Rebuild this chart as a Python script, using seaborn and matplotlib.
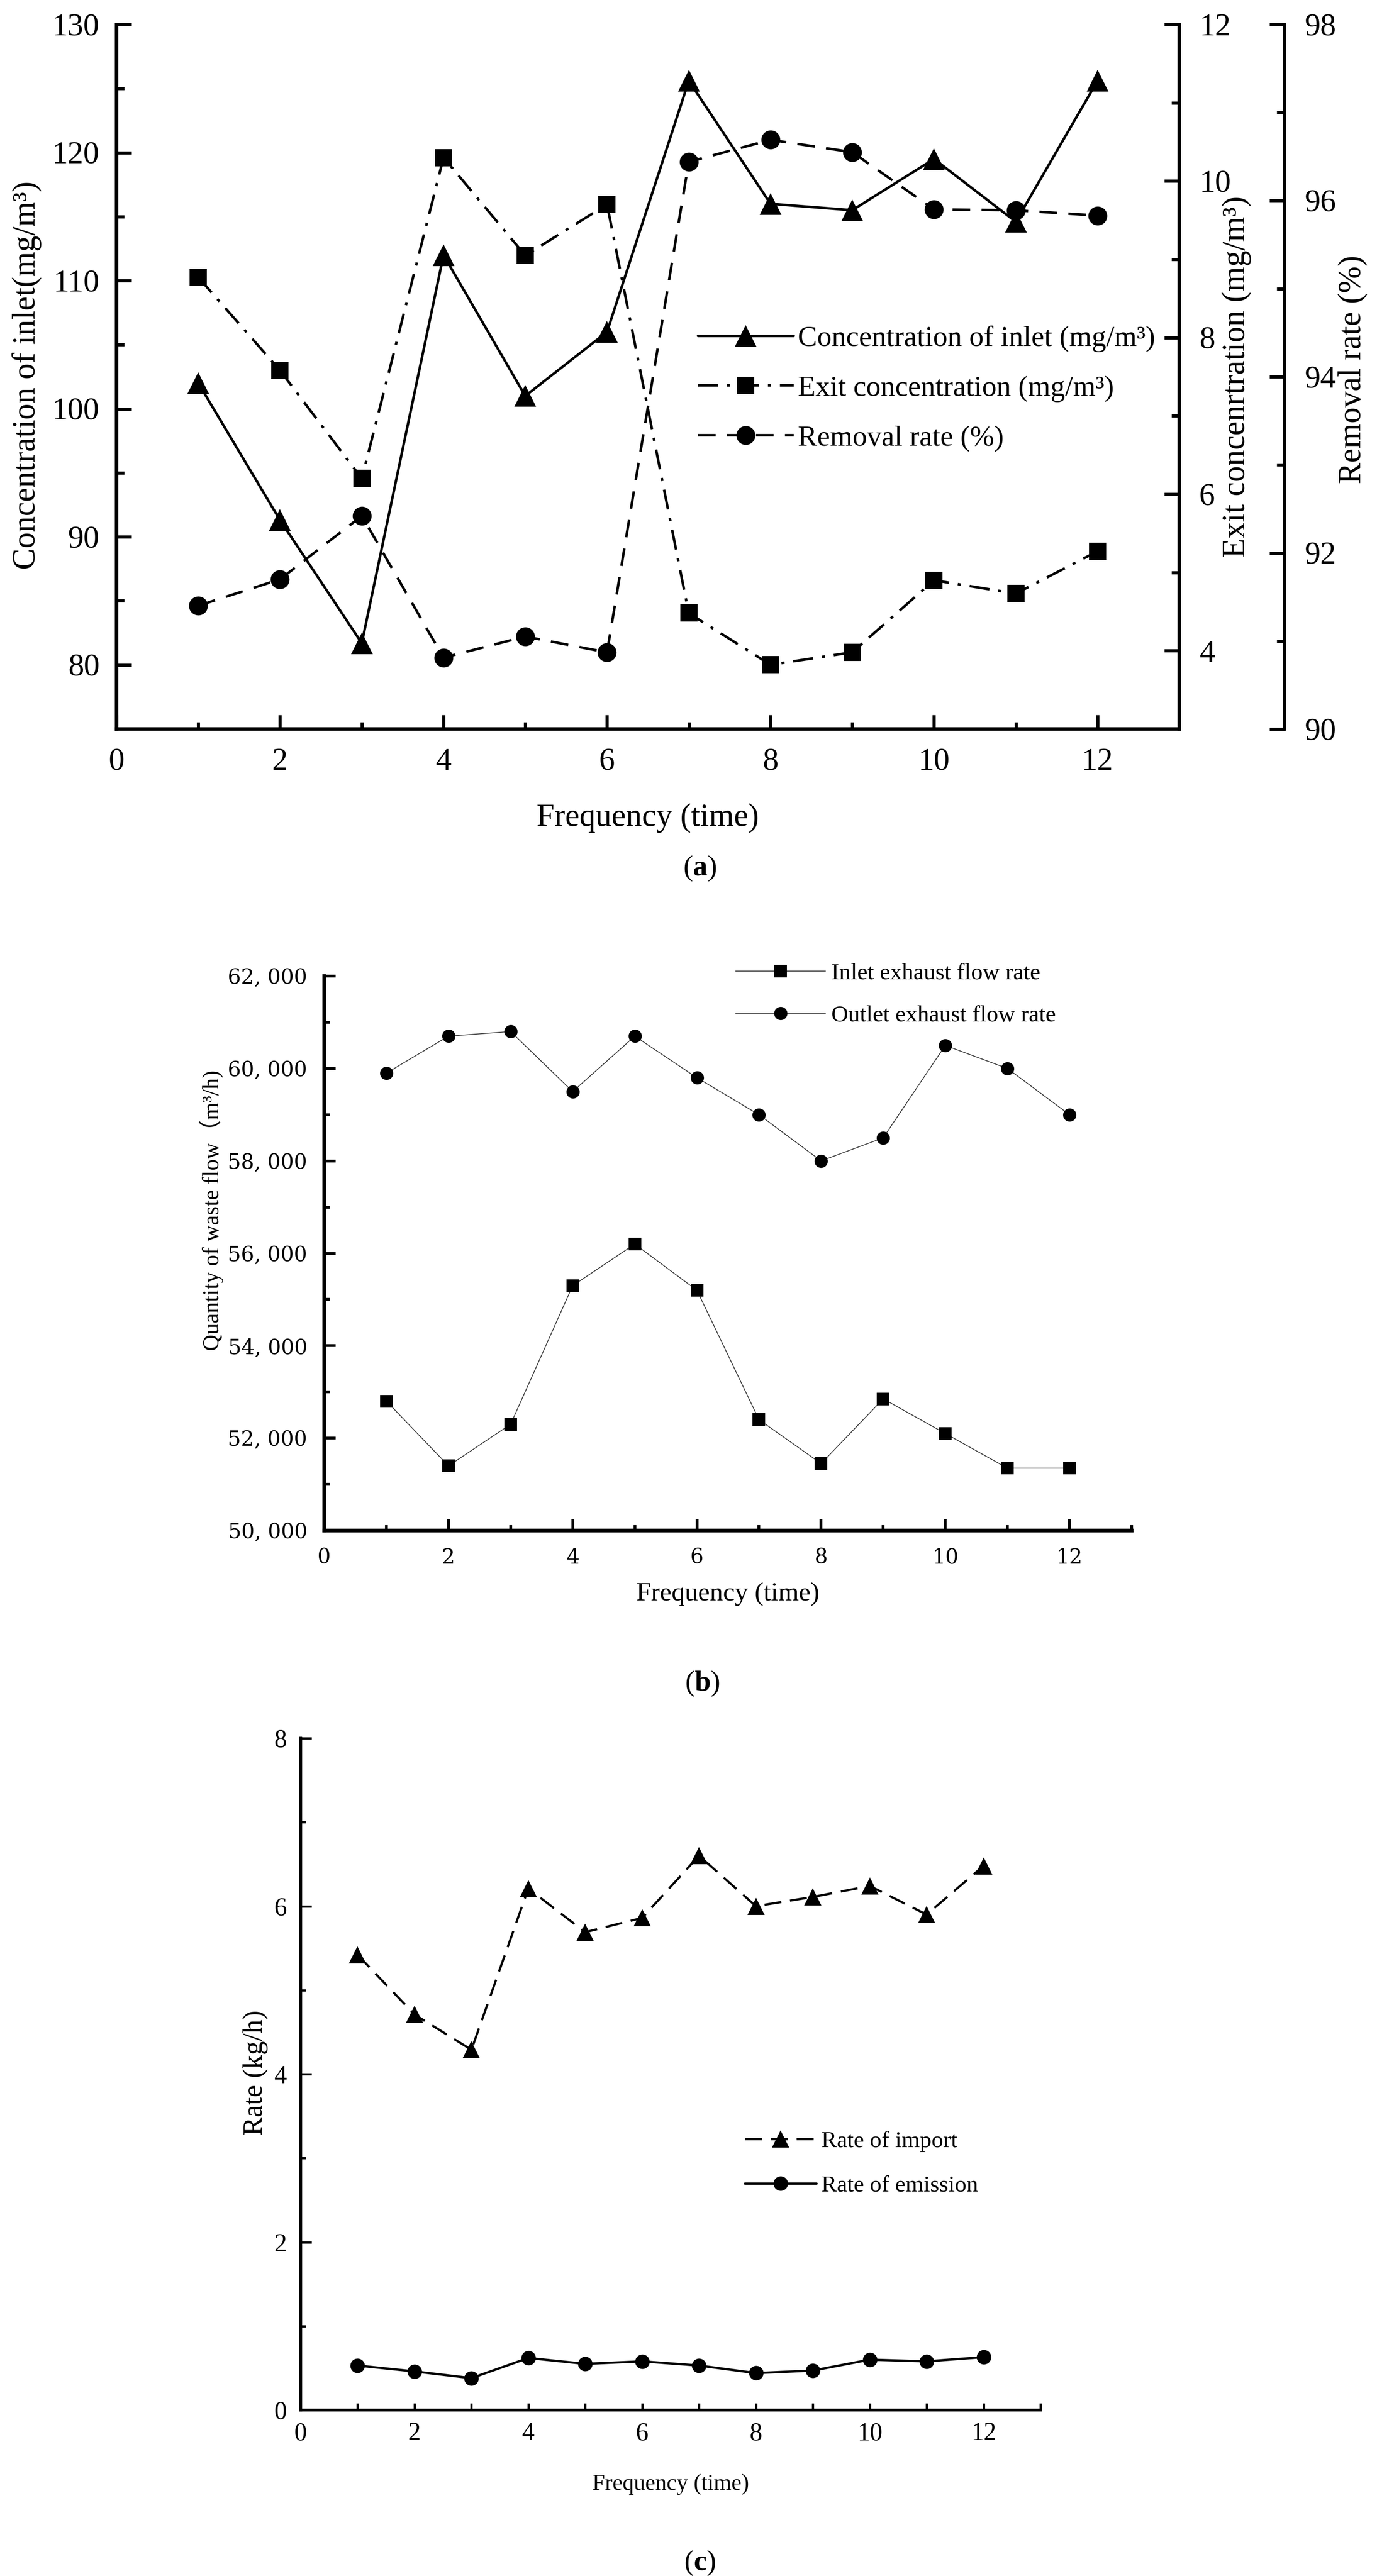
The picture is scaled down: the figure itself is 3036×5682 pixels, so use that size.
import numpy as np
import pandas as pd
import matplotlib
matplotlib.use("Agg")
import matplotlib.pyplot as plt
import seaborn as sns
from matplotlib.ticker import MultipleLocator, FixedLocator, FuncFormatter

# ---------------- data ----------------
runs = list(range(1, 13))

# panel (a)
inlet_conc = [102.0, 91.3, 81.7, 112.0, 101.0, 106.0, 125.6, 116.0, 115.5, 119.5, 114.6, 125.6]
exit_conc = [8.77, 7.58, 6.20, 10.30, 9.05, 9.70, 4.48, 3.82, 3.98, 4.90, 4.73, 5.27]
removal_rate = [91.40, 91.70, 92.42, 90.81, 91.05, 90.87, 96.44, 96.69, 96.55, 95.90, 95.89, 95.83]

# panel (b)
inlet_flow = [52800, 51400, 52300, 55300, 56200, 55200, 52400, 51450, 52850, 52100, 51350, 51350]
outlet_flow = [59900, 60700, 60800, 59500, 60700, 59800, 59000, 58000, 58500, 60500, 60000, 59000]

# panel (c)
import_rate = [5.42, 4.71, 4.29, 6.21, 5.69, 5.86, 6.60, 6.00, 6.11, 6.24, 5.90, 6.48]
emission_rate = [0.53, 0.46, 0.38, 0.62, 0.55, 0.58, 0.53, 0.44, 0.47, 0.60, 0.58, 0.63]

# ---------------- style ----------------
sns.set_theme(style="white")
plt.rcParams["font.family"] = ["Liberation Serif", "DejaVu Serif", "Noto Sans CJK SC"]
plt.rcParams.update({
    "lines.scale_dashes": False,
    "mathtext.fontset": "custom",
    "mathtext.rm": "Liberation Serif",
    "mathtext.bf": "Liberation Serif:bold",
    "mathtext.it": "Liberation Serif:italic",
    "text.color": "black",
    "axes.labelcolor": "black",
    "xtick.color": "black",
    "ytick.color": "black",
    "axes.edgecolor": "black",
})

W, H = 3036, 5682
fig = plt.figure(figsize=(W / 100, H / 100), dpi=100)


def px_axes(l, t, r, b):
    return fig.add_axes([l / W, 1 - b / H, (r - l) / W, (b - t) / H])


def center_label(lab):
    lab.set_ha("center")
    lab.set_va("center")


# ================= panel (a) =================
L, T, R, B = 257, 54, 2600, 1608
ax1 = px_axes(L, T, R, B)
ax2 = ax1.twinx()
ax3 = ax1.twinx()
ax3.spines["right"].set_position(("axes", (2832 - L) / (R - L)))

df_a = pd.DataFrame({"run": runs, "inlet": inlet_conc, "exit": exit_conc, "removal": removal_rate})

sns.lineplot(data=df_a, x="run", y="inlet", ax=ax1, color="black", linewidth=4,
             marker="^", markersize=34, markeredgecolor="black", markeredgewidth=0,
             label="Concentration of inlet (mg/m³)", legend=False)
sns.lineplot(data=df_a, x="run", y="exit", ax=ax2, color="black", linewidth=4,
             linestyle=(0, (32, 14, 5, 14)),
             marker="s", markersize=27, markeredgecolor="black", markeredgewidth=0,
             label="Exit concentration (mg/m³)", legend=False)
sns.lineplot(data=df_a, x="run", y="removal", ax=ax3, color="black", linewidth=4,
             linestyle=(0, (28, 18)),
             marker="o", markersize=30, markeredgecolor="black", markeredgewidth=0,
             label="Removal rate (%)", legend=False)

ax1.set_xlim(0, 13)
ax1.set_ylim(75, 130)
ax2.set_ylim(3, 12)
ax3.set_ylim(90, 98)

ax1.xaxis.set_major_locator(MultipleLocator(2))
ax1.xaxis.set_minor_locator(MultipleLocator(1))
ax1.yaxis.set_major_locator(FixedLocator(list(range(80, 131, 10))))
ax1.yaxis.set_minor_locator(FixedLocator(list(range(85, 130, 10))))
ax2.yaxis.set_major_locator(FixedLocator([4, 6, 8, 10, 12]))
ax2.yaxis.set_minor_locator(FixedLocator([5, 7, 9, 11]))
ax3.yaxis.set_major_locator(FixedLocator([90, 92, 94, 96, 98]))
ax3.yaxis.set_minor_locator(FixedLocator([91, 93, 95, 97]))

for sp in ["top", "right"]:
    ax1.spines[sp].set_visible(False)
for a in (ax2, ax3):
    for sp in ["top", "left", "bottom"]:
        a.spines[sp].set_visible(False)
for a in (ax1, ax2, ax3):
    for sp in a.spines.values():
        sp.set_linewidth(5.5)
        sp.set_color("black")

ax1.tick_params(axis="x", which="both", direction="in", bottom=True, top=False,
                width=5, labelsize=50, pad=30)
ax1.tick_params(axis="x", which="major", length=22)
ax1.tick_params(axis="x", which="minor", length=11)
ax1.tick_params(axis="y", which="both", direction="in", left=True, right=False,
                width=5, labelsize=50, pad=27)
ax1.tick_params(axis="y", which="major", length=24)
ax1.tick_params(axis="y", which="minor", length=12)
for a in (ax2, ax3):
    a.tick_params(axis="y", which="both", direction="in", right=True, left=False,
                  width=5, labelsize=50, pad=32)
    a.tick_params(axis="y", which="major", length=24)
    a.tick_params(axis="y", which="minor", length=12)

ax1.set_xlabel("Frequency (time)", fontsize=51)
ax1.xaxis.set_label_coords(0.5, (B - 1804) / (B - T))
ax1.xaxis.label.set_va("center")
ax1.set_ylabel("Concentration of inlet(mg/m³)", fontsize=51)
ax1.yaxis.set_label_coords((60 - L) / (R - L), (B - 828) / (B - T))
center_label(ax1.yaxis.label)
ax2.set_ylabel("Exit concenrtration (mg/m³)", fontsize=51)
ax2.yaxis.set_label_coords((2726 - L) / (R - L), (B - 831) / (B - T))
center_label(ax2.yaxis.label)
ax2.yaxis.label.set_rotation(90)
ax3.set_ylabel("Removal rate (%)", fontsize=51)
ax3.yaxis.set_label_coords((2982 - L) / (R - L), (B - 815) / (B - T))
center_label(ax3.yaxis.label)
ax3.yaxis.label.set_rotation(90)

handles = ax1.get_lines() + ax2.get_lines() + ax3.get_lines()
handles = [h for h in handles if not h.get_label().startswith("_")]
fig.legend(handles, [h.get_label() for h in handles], loc="upper left",
           bbox_to_anchor=(1539 / W, 1 - 718 / H), bbox_transform=fig.transFigure,
           frameon=False, fontsize=46, handlelength=3.3, handletextpad=0.15,
           labelspacing=0.8, borderpad=0, borderaxespad=0)

fig.text(1543 / W, 1 - 1916 / H, r"($\mathbf{a}$)", fontsize=46, ha="center", va="center")

# ================= panel (b) =================
L, T, R, B = 715, 2153, 2495, 3376
axb = px_axes(L, T, R, B)
df_b = pd.DataFrame({"run": runs, "inlet": inlet_flow, "outlet": outlet_flow})
sns.lineplot(data=df_b, x="run", y="inlet", ax=axb, color="#3a3a3a", linewidth=1.3,
             marker="s", markersize=20, markerfacecolor="black", markeredgecolor="black",
             markeredgewidth=0, label="Inlet exhaust flow rate", legend=False)
sns.lineplot(data=df_b, x="run", y="outlet", ax=axb, color="#3a3a3a", linewidth=1.3,
             marker="o", markersize=21, markerfacecolor="black", markeredgecolor="black",
             markeredgewidth=0, label="Outlet exhaust flow rate", legend=False)
axb.set_xlim(0, 13)
axb.set_ylim(50000, 62000)
axb.xaxis.set_major_locator(MultipleLocator(2))
axb.xaxis.set_minor_locator(MultipleLocator(1))
axb.yaxis.set_major_locator(MultipleLocator(2000))
axb.yaxis.set_minor_locator(MultipleLocator(1000))
axb.yaxis.set_major_formatter(FuncFormatter(lambda v, p: f"{v:,.0f}".replace(",", ", ")))
for sp in ["top", "right"]:
    axb.spines[sp].set_visible(False)
for sp in ["left", "bottom"]:
    axb.spines[sp].set_linewidth(6)
    axb.spines[sp].set_color("black")
axb.tick_params(axis="both", which="both", direction="in", bottom=True, left=True,
                width=4.5, labelsize=33, labelfontfamily="DejaVu Serif")
axb.tick_params(axis="x", which="both", pad=27)
axb.tick_params(axis="y", which="both", pad=27)
axb.tick_params(axis="both", which="major", length=18)
axb.tick_params(axis="both", which="minor", length=9)
axb.set_xlabel("Frequency (time)", fontsize=42)
axb.xaxis.set_label_coords(0.5, (B - 3516) / (B - T))
axb.xaxis.label.set_va("center")
axb.set_ylabel("Quantity of waste flow（m³/h)", fontsize=36,
               family=["Liberation Serif", "Noto Sans CJK SC"])
axb.yaxis.set_label_coords((466 - L) / (R - L), (B - 2670) / (B - T))
center_label(axb.yaxis.label)
axb.legend(loc="upper left", bbox_to_anchor=(1622 / W, 1 - 2124 / H),
           bbox_transform=fig.transFigure, frameon=False, fontsize=37,
           handlelength=3.85, handletextpad=0.25, labelspacing=0.9,
           borderpad=0, borderaxespad=0)

fig.text(1549 / W, 1 - 3714 / H, r"($\mathbf{b}$)", fontsize=46, ha="center", va="center")

# ================= panel (c) =================
L, T, R, B = 663, 3834, 2294, 5316
axc = px_axes(L, T, R, B)
df_c = pd.DataFrame({"run": runs, "import": import_rate, "emission": emission_rate})
sns.lineplot(data=df_c, x="run", y="import", ax=axc, color="black", linewidth=3.5,
             linestyle=(0, (27, 14)),
             marker="^", markersize=27, markeredgecolor="black", markeredgewidth=0,
             label="Rate of import", legend=False)
sns.lineplot(data=df_c, x="run", y="emission", ax=axc, color="black", linewidth=3.6,
             marker="o", markersize=23, markeredgecolor="black", markeredgewidth=0,
             label="Rate of emission", legend=False)
axc.set_xlim(0, 13)
axc.set_ylim(0, 8)
axc.xaxis.set_major_locator(MultipleLocator(2))
axc.xaxis.set_minor_locator(MultipleLocator(1))
axc.yaxis.set_major_locator(MultipleLocator(2))
axc.yaxis.set_minor_locator(MultipleLocator(1))
for sp in ["top", "right"]:
    axc.spines[sp].set_visible(False)
for sp in ["left", "bottom"]:
    axc.spines[sp].set_linewidth(4.6)
    axc.spines[sp].set_color("black")
axc.tick_params(axis="both", which="both", direction="in", bottom=True, left=True,
                width=3.5, labelsize=40)
axc.tick_params(axis="x", which="both", pad=19, length=11)
axc.tick_params(axis="y", which="both", pad=22)
axc.tick_params(axis="y", which="major", length=17)
axc.tick_params(axis="y", which="minor", length=8)
axc.set_xlabel("Frequency (time)", fontsize=36)
axc.xaxis.set_label_coords(0.5, (B - 5480) / (B - T))
axc.xaxis.label.set_va("center")
axc.set_ylabel("Rate (kg/h)", fontsize=44)
axc.yaxis.set_label_coords((563 - L) / (R - L), (B - 4572) / (B - T))
center_label(axc.yaxis.label)
axc.legend(loc="upper left", bbox_to_anchor=(1642 / W, 1 - 4700 / H),
           bbox_transform=fig.transFigure, frameon=False, fontsize=37,
           handlelength=3.08, handletextpad=0.2, labelspacing=1.0,
           borderpad=0, borderaxespad=0)

fig.text(1543 / W, 1 - 5654 / H, r"($\mathbf{c}$)", fontsize=46, ha="center", va="center")

fig.savefig("out.png", dpi=100, facecolor="white")
